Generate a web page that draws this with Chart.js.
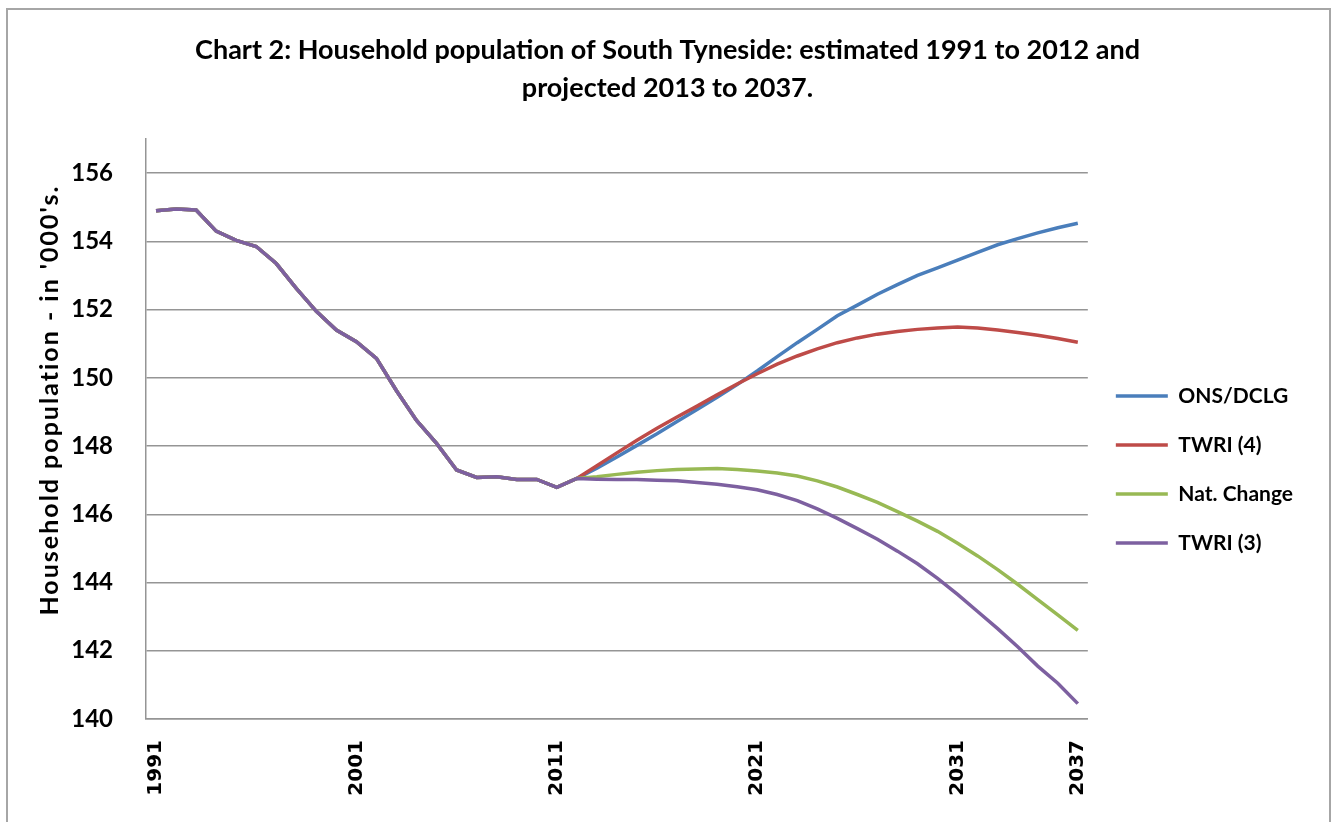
<!DOCTYPE html>
<html>
<head>
<meta charset="utf-8">
<title>Household population of South Tyneside</title>
<script src="https://cdn.jsdelivr.net/npm/chart.js@4.4.1/dist/chart.umd.min.js"></script>
<style>
  html, body { margin: 0; padding: 0; background: #ffffff; }
  #frame {
    position: absolute; left: 6px; top: 8px; width: 1325px; height: 900px;
    border: 2px solid #a6a6a6; box-sizing: border-box;
  }
  #chart { position: absolute; left: 0; top: 0; }
</style>
</head>
<body>
<div id="frame"></div>
<canvas id="chart" width="1335" height="822"></canvas>
<script>
// Years on the category axis
const years = [
  1991, 1992, 1993, 1994, 1995, 1996, 1997, 1998, 1999, 2000,
  2001, 2002, 2003, 2004, 2005, 2006, 2007, 2008, 2009, 2010,
  2011, 2012, 2013, 2014, 2015, 2016, 2017, 2018, 2019, 2020,
  2021, 2022, 2023, 2024, 2025, 2026, 2027, 2028, 2029, 2030,
  2031, 2032, 2033, 2034, 2035, 2036, 2037
];

// Estimated household population 1991-2012 ('000s), shared by every series
const estimated = [
  154.90, 154.95, 154.92, 154.30, 154.03, 153.85, 153.35, 152.62, 151.95, 151.40,
  151.06, 150.57, 149.62, 148.75, 148.08, 147.30, 147.08, 147.10, 147.02, 147.02,
  146.79, 147.05
];

// Projected household population 2013-2037 ('000s)
const onsDclg = [
  147.35, 147.68, 148.02, 148.36, 148.72, 149.07, 149.43, 149.80, 150.20, 150.62,
  151.03, 151.42, 151.82, 152.13, 152.45, 152.73, 153.00, 153.22, 153.45, 153.68,
  153.90, 154.08, 154.25, 154.40, 154.53
];
const twri4 = [
  147.42, 147.80, 148.17, 148.52, 148.85, 149.17, 149.50, 149.82, 150.12, 150.40,
  150.64, 150.85, 151.03, 151.17, 151.28, 151.36, 151.42, 151.46, 151.49, 151.46,
  151.40, 151.33, 151.25, 151.15, 151.04
];
const natChange = [
  147.10, 147.17, 147.23, 147.28, 147.31, 147.33, 147.34, 147.31, 147.27, 147.21,
  147.12, 146.98, 146.80, 146.58, 146.35, 146.08, 145.80, 145.50, 145.15, 144.78,
  144.38, 143.95, 143.50, 143.05, 142.60
];
const twri3 = [
  147.03, 147.02, 147.02, 147.00, 146.98, 146.93, 146.88, 146.81, 146.72, 146.58,
  146.40, 146.16, 145.88, 145.58, 145.27, 144.92, 144.55, 144.12, 143.65, 143.15,
  142.65, 142.12, 141.55, 141.05, 140.45
];

// Axis labelling
const yTicks = [140, 142, 144, 146, 148, 150, 152, 154, 156];
const xTickYears = [1991, 2001, 2011, 2021, 2031, 2037];
const chartTitle = [
  'Chart 2: Household population of South Tyneside: estimated 1991 to 2012 and',
  'projected 2013 to 2037.'
];
const yAxisTitle = "Household population - in '000's.";

const seriesNames = ['ONS/DCLG', 'TWRI (4)', 'Nat. Change', 'TWRI (3)'];
const seriesColors = ['#4a7ebb', '#be4b48', '#98b954', '#7d60a0'];
const projections = [onsDclg, twri4, natChange, twri3];

const gridColor = '#959595';
const labelFont = 'Lato, "Open Sans", sans-serif';
const sidePad = 32;

const datasets = seriesNames.map((name, i) => ({
  label: name,
  data: estimated.concat(projections[i]),
  borderColor: seriesColors[i],
  backgroundColor: seriesColors[i],
  borderWidth: 3.5,
  pointRadius: 0,
  pointHoverRadius: 0,
  tension: 0,
  fill: false,
  // later series are painted over earlier ones, so TWRI (3) shows on the shared run
  order: seriesNames.length - 1 - i
}));

// Rotated value-axis caption
const yTitlePlugin = {
  id: 'yTitle',
  afterDraw(chart) {
    const { ctx, chartArea } = chart;
    ctx.save();
    ctx.translate(50, chartArea.top + 261);
    ctx.rotate(-Math.PI / 2);
    ctx.font = 'bold 25px ' + labelFont;
    if ('letterSpacing' in ctx) ctx.letterSpacing = '2px';
    ctx.fillStyle = '#000000';
    ctx.textAlign = 'center';
    ctx.textBaseline = 'middle';
    ctx.fillText(yAxisTitle, 0, 0);
    ctx.restore();
  }
};

new Chart(document.getElementById('chart'), {
  type: 'line',
  data: { labels: years, datasets },
  plugins: [yTitlePlugin],
  options: {
    responsive: false,
    animation: false,
    devicePixelRatio: 1,
    layout: { padding: { left: sidePad, right: sidePad, top: 0, bottom: 0 } },
    plugins: {
      tooltip: { enabled: false },
      title: {
        display: true,
        text: chartTitle,
        color: '#000000',
        font: { family: labelFont, size: 27, weight: 'bold', lineHeight: 38 / 27 },
        padding: { top: 31, bottom: 32 }
      },
      legend: {
        position: 'right',
        fullSize: false,
        align: 'center',
        title: {
          display: true,
          text: ' ',
          font: { size: 12 },
          padding: { top: 66.6, bottom: 0 }
        },
        labels: {
          usePointStyle: true,
          pointStyle: 'line',
          pointStyleWidth: 52,
          padding: 28,
          color: '#000000',
          font: { family: labelFont, size: 21, weight: 'bold' },
          sort: (a, b) => a.datasetIndex - b.datasetIndex
        }
      }
    },
    scales: {
      x: {
        type: 'category',
        offset: true,
        grid: { display: false, drawTicks: false, tickLength: 0 },
        border: { display: true, color: gridColor, width: 1.5 },
        ticks: {
          autoSkip: false,
          minRotation: 90,
          maxRotation: 90,
          padding: 21,
          color: '#000000',
          font: { family: '"DejaVu Sans", sans-serif', size: 20, weight: 'bold' },
          callback(value, index) {
            const y = years[index];
            return xTickYears.includes(y) ? String(y) : null;
          }
        },
        afterFit(scale) { scale.height = 103; }
      },
      y: {
        min: 140,
        max: 157,
        grid: { color: gridColor, lineWidth: 1.5, drawTicks: false, tickLength: 0 },
        border: { display: true, color: gridColor, width: 1.5 },
        ticks: {
          padding: 33,
          color: '#000000',
          font: { family: labelFont, size: 24, weight: 'bold' }
        },
        afterBuildTicks(scale) { scale.ticks = yTicks.map(v => ({ value: v })); },
        afterFit(scale) { scale.width = 146 - sidePad; }
      }
    }
  }
});
</script>
</body>
</html>
